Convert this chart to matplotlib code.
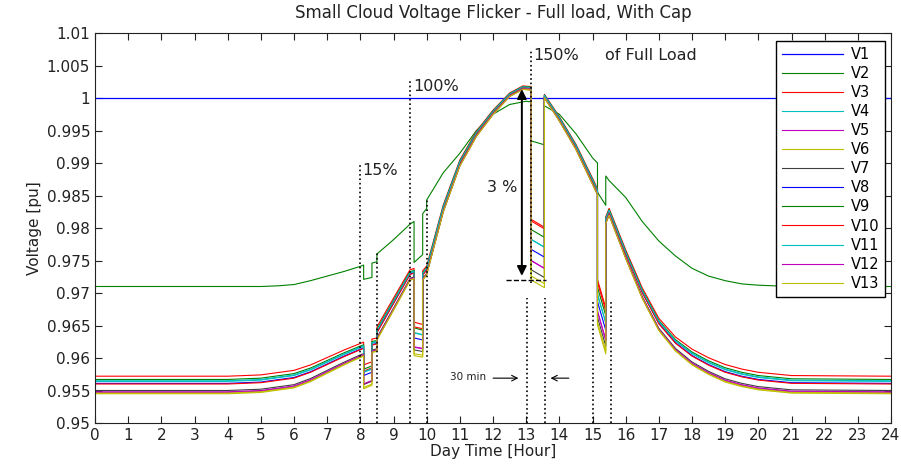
import numpy as np
import matplotlib
matplotlib.use("Agg")
import matplotlib.pyplot as plt

# --- data ---
names = ["V%d" % i for i in range(1, 14)]
colors = [(0, 0, 1), (0, 0.5, 0), (1, 0, 0), (0, 0.75, 0.75), (0.75, 0, 0.75),
          (0.75, 0.75, 0), (0.25, 0.25, 0.25), (0, 0, 1), (0, 0.5, 0), (1, 0, 0),
          (0, 0.75, 0.75), (0.75, 0, 0.75), (0.75, 0.75, 0)]

v1_level = 1.0

# cloud events (hour start / end)
ev_start = [8.1, 9.62, 13.15, 15.15]
ev_end = [8.35, 9.88, 13.55, 15.4]

# V2 (upper curve)
up_t = [0, 5, 5.5, 6, 6.5, 7, 7.5, 8, 8.1, 8.35, 8.5, 8.5, 9, 9.5, 9.62, 9.88, 10, 10,
        10.5, 11, 11.5, 12, 12.5, 13, 13.15, 13.55, 14, 14.5, 15, 15.15, 15.4, 15.5,
        16, 16.5, 17, 17.5, 18, 18.5, 19, 19.5, 20, 21, 24]
up_v = [0.9710, 0.9710, 0.9711, 0.9713, 0.9719, 0.9726, 0.9733, 0.9741, 0.9743, 0.9746,
        0.9748, 0.9760, 0.9782, 0.9806, 0.9810, 0.9822, 0.9830, 0.9843, 0.9885, 0.9915,
        0.9950, 0.9975, 0.9990, 0.9995, 0.9994, 0.9988, 0.9975, 0.9945, 0.9908, 0.9900,
        0.9880, 0.9873, 0.9847, 0.9810, 0.9780, 0.9757, 0.9738, 0.9726, 0.9719, 0.9714,
        0.9712, 0.9710, 0.9710]
up_dip = [0.0022, 0.0063, 0.0060, 0.0045]

# V3..V13 (lower group), middle of the band
low_t = [0, 4, 5, 6, 6.5, 7, 7.5, 8, 8.1, 8.35, 8.5, 8.5, 9, 9.5, 9.62, 9.88, 10, 10.5,
         11, 11.5, 12, 12.5, 12.9, 13.15, 13.55, 14, 14.5, 15, 15.15, 15.4, 15.5, 16,
         16.5, 17, 17.5, 18, 18.5, 19, 19.5, 20, 21, 24]
low_v = [0.9559, 0.9559, 0.9561, 0.9568, 0.9577, 0.9589, 0.9601, 0.9612, 0.9614, 0.9619,
         0.9621, 0.9638, 0.9683, 0.9728, 0.9730, 0.9727, 0.9735, 0.9830, 0.9900, 0.9945,
         0.9978, 1.0005, 1.0016, 1.0015, 1.0003, 0.9968, 0.9925, 0.9872, 0.9856, 0.9812,
         0.9825, 0.9760, 0.9700, 0.9652, 0.9622, 0.9602, 0.9588, 0.9577, 0.9570, 0.9565,
         0.9560, 0.9559]
low_spread = [1, 1, 1, 1, 0.95, 0.9, 0.85, 0.8, 0.8, 0.78, 0.75, 0.75, 0.7, 0.6, 0.6,
              0.55, 0.5, 0.4, 0.35, 0.3, 0.25, 0.2, 0.2, 0.2, 0.2, 0.25, 0.3, 0.35, 0.35,
              0.4, 0.4, 0.5, 0.6, 0.7, 0.8, 0.9, 0.95, 1, 1, 1, 1, 1]
low_dip = [0.0050, 0.0118, 0.0292, 0.0200]
# per series: night level offset from band middle, and share of the dip
low_offset = [0.0013, 0.0005, -0.0012, -0.0014, -0.0009, 0.0002, 0.0008, 0.0001,
              0.0006, -0.0011, -0.0013]
low_scale = [0.7, 0.8, 0.9, 1.0, 0.95, 0.85, 0.75, 0.7, 0.8, 0.9, 0.98]


def with_dips(t, v, dips):
    tt, vv = [], []
    for ti, vi in zip(t, v):
        inside = False
        for s, e, d in zip(ev_start, ev_end, dips):
            if ti == s:
                tt += [ti, ti]; vv += [vi, vi - d]
                inside = True
            elif ti == e:
                tt += [ti, ti]; vv += [vi - d, vi]
                inside = True
            elif s < ti < e:
                tt.append(ti); vv.append(vi - d)
                inside = True
        if not inside:
            tt.append(ti); vv.append(vi)
    return tt, vv


fig = plt.figure(figsize=(9.01, 4.65), dpi=100)
ax = fig.add_axes([95 / 901, 42 / 465, 796 / 901, 390 / 465])

ax.plot([0, 24], [v1_level, v1_level], color=colors[0], lw=0.9, label=names[0])
t2, y2 = with_dips(up_t, up_v, up_dip)
ax.plot(t2, y2, color=colors[1], lw=0.8, label=names[1])
base = np.array(low_v)
spread = np.array(low_spread)
for k in range(11):
    vals = base + low_offset[k] * spread
    tk, yk = with_dips(low_t, vals, [d * low_scale[k] for d in low_dip])
    ax.plot(tk, yk, color=colors[k + 2], lw=0.8, label=names[k + 2])

# annotations
dot_lines = [(8.0, 0.95, 0.9898), (8.5, 0.95, 0.9765), (9.5, 0.95, 1.0027),
             (10.0, 0.95, 0.9846), (13.15, 0.9715, 1.0073), (13.02, 0.95, 0.9692),
             (13.56, 0.95, 0.9692), (15.03, 0.95, 0.9689), (15.57, 0.95, 0.9689)]
for x, a, b in dot_lines:
    ax.plot([x, x], [a, b], color="black", ls=":", lw=1.2)
ax.plot([12.4, 13.6], [0.972, 0.972], color="black", ls="--", lw=1.0)
ax.annotate("", xy=(12.87, 0.9722), xytext=(12.87, 1.0018),
            arrowprops=dict(arrowstyle="<|-|>", color="black", lw=1.4, mutation_scale=14))
ax.annotate("", xy=(12.85, 0.9569), xytext=(11.92, 0.9569),
            arrowprops=dict(arrowstyle="->", color="black", lw=0.8))
ax.annotate("", xy=(13.65, 0.9569), xytext=(14.37, 0.9569),
            arrowprops=dict(arrowstyle="->", color="black", lw=0.8))

txt = dict(fontsize=11.5, color="#222222", va="center")
ax.text(8.06, 0.9889, "15%", **txt)
ax.text(9.59, 1.0017, "100%", **txt)
ax.text(13.22, 1.0066, "150%", **txt)
ax.text(15.37, 1.0066, "of Full Load", **txt)
ax.text(11.83, 0.9863, "3 %", **txt)
ax.text(10.7, 0.9571, "30 min", fontsize=7.5, color="#222222", va="center")

ax.set_xlim(0, 24)
ax.set_ylim(0.95, 1.01)
ax.set_xticks(range(0, 25))
ax.set_yticks([0.95, 0.955, 0.96, 0.965, 0.97, 0.975, 0.98, 0.985, 0.99, 0.995, 1.0,
               1.005, 1.01])
ax.set_yticklabels(["0.95", "0.955", "0.96", "0.965", "0.97", "0.975", "0.98", "0.985",
                    "0.99", "0.995", "1", "1.005", "1.01"])
ax.tick_params(direction="in", top=True, right=True, length=5, labelsize=11,
               colors="#222222")
for sp in ax.spines.values():
    sp.set_color("#222222")
ax.set_title("Small Cloud Voltage Flicker - Full load, With Cap", fontsize=12,
             color="#222222", pad=11)
ax.set_xlabel("Day Time [Hour]", fontsize=11, color="#222222", labelpad=1)
ax.set_ylabel("Voltage [pu]", fontsize=11, color="#222222", labelpad=3)

leg = ax.legend(loc="upper right", bbox_to_anchor=(0.9925, 0.9795), borderaxespad=0,
                fontsize=10.5, handlelength=4.2, labelspacing=0.28, fancybox=False,
                edgecolor="black", framealpha=1, borderpad=0.4, handletextpad=0.5)
leg.get_frame().set_linewidth(1.0)

fig.savefig("out.png", dpi=100)
